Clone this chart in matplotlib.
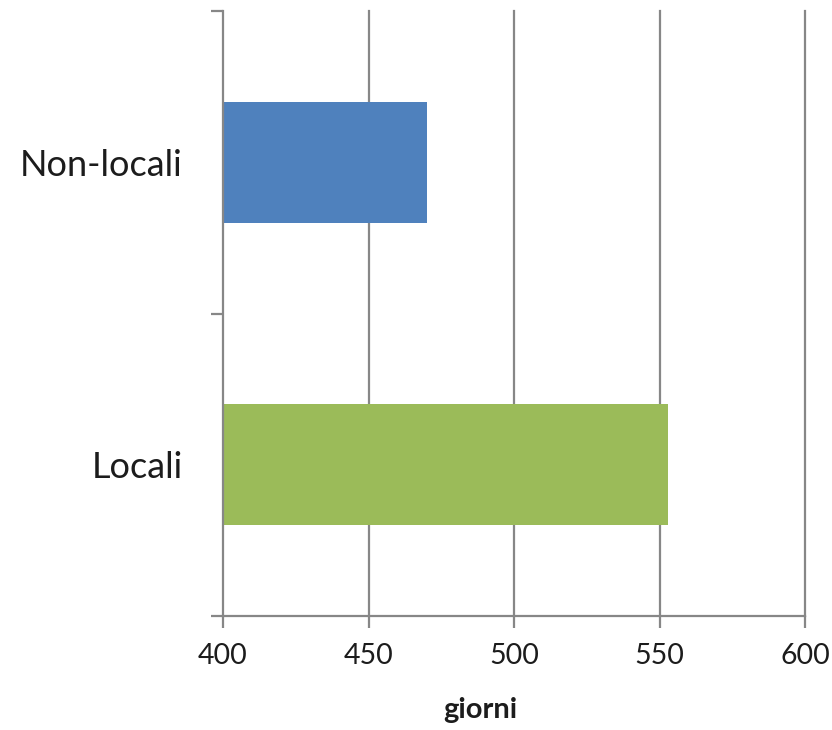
import matplotlib
matplotlib.use("Agg")
import matplotlib.pyplot as plt
from matplotlib.ticker import FixedLocator

categories = ["Locali", "Non-locali"]
values = [553, 470]
bar_colors = ["#9BBB59", "#4F81BD"]
x_ticks = [400, 450, 500, 550, 600]
x_label = "giorni"

plt.rcParams["font.family"] = ["Lato", "DejaVu Sans"]

grid_color = "#878787"
text_color = "#1c1c1c"

fig = plt.figure(figsize=(8.32, 7.30), dpi=100)
ax = fig.add_axes([223 / 832, 1 - 616 / 730, (805 - 223) / 832, (616 - 11) / 730])

positions = list(range(len(categories)))
ax.barh(positions, [v - x_ticks[0] for v in values], left=x_ticks[0], height=0.4,
        color=bar_colors, zorder=3)

ax.set_xlim(x_ticks[0], x_ticks[-1])
ax.set_ylim(-0.5, len(categories) - 0.5)

# vertical gridlines
for xv in x_ticks[1:]:
    ax.axvline(xv, color=grid_color, lw=1.6, zorder=1, clip_on=False)

ax.set_xticks(x_ticks)
ax.set_xticklabels([str(t) for t in x_ticks])
ax.tick_params(axis="x", direction="out", length=8.5, width=1.6, color=grid_color,
               labelsize=20.5, labelcolor=text_color, pad=11)

ax.set_yticks(positions)
ax.set_yticklabels(categories)
ax.yaxis.set_minor_locator(FixedLocator([-0.5 + i for i in range(len(categories) + 1)]))
ax.tick_params(axis="y", which="major", length=0, pad=29, labelsize=26, labelcolor=text_color)
ax.tick_params(axis="y", which="minor", direction="out", length=9, width=1.6, color=grid_color)

for side in ("top", "right"):
    ax.spines[side].set_visible(False)
for side in ("left", "bottom"):
    ax.spines[side].set_color(grid_color)
    ax.spines[side].set_linewidth(1.6)
    ax.spines[side].set_zorder(4)

ax.set_xlabel(x_label, fontsize=21, fontweight="bold", color=text_color)
ax.xaxis.set_label_coords((480 - 223) / (805 - 223), -(697 - 616) / (616 - 11))

fig.savefig("out.png", dpi=100, facecolor="white")
